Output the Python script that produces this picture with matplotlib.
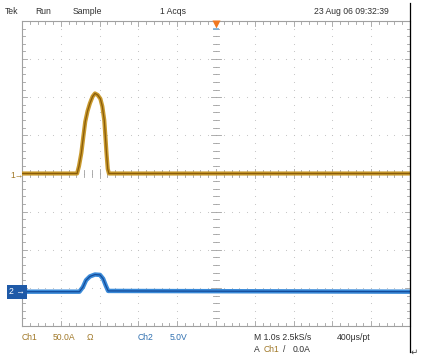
import numpy as np
import matplotlib.pyplot as plt

# scope settings
CH1_SCALE = 50.0    # A/div
CH2_SCALE = 5.0     # V/div
CH1_POS = 0.0       # div
CH2_POS = -3.1      # div

# Ch1 current (A) against time (s), trigger at t = 0
t1 = [-5.0, -3.58, -3.53, -3.47, -3.42, -3.37, -3.31, -3.25, -3.18, -3.12,
      -3.05, -2.98, -2.93, -2.88, -2.85, -2.82, -2.79, -2.76, 5.0]
i1 = [0, 0, 10, 27, 48, 68, 82, 92, 101, 105,
      103, 98, 88, 70, 48, 25, 6, 0, 0]

# Ch2 voltage (V)
t2 = [-5.0, -3.52, -3.43, -3.35, -3.25, -3.12, -2.99, -2.91, -2.84, -2.78, 5.0]
v2 = [0, 0, 0.6, 1.5, 2.0, 2.25, 2.2, 1.7, 0.8, 0.1, 0]

top_labels = ['Tek', 'Run', 'Sample', '1 Acqs', '23 Aug 06 09:32:39']
top_x = [5, 35, 73, 160, 314]

C1 = '#c99a2e'
C1_DARK = '#7a4c00'
C1_TEXT = '#a07828'
C2 = '#3a8ad8'
C2_DARK = '#0a3c8c'
C2_TEXT = '#3070b0'
GRID = '#a0a0a0'
FS = 6.2

plt.rcParams['font.family'] = ['Liberation Sans', 'DejaVu Sans']

W, H = 425, 360
fig = plt.figure(figsize=(W / 100, H / 100), dpi=100)
fig.patch.set_facecolor('white')
ax = fig.add_axes([22 / W, 1 - 326 / H, 388 / W, 305 / H])
ax.set_xlim(-5, 5)
ax.set_ylim(-4, 4)
ax.set_xticks([])
ax.set_yticks([])
for s in ax.spines.values():
    s.set_color(GRID)
    s.set_linewidth(0.8)

# dotted graticule
minor_x = np.arange(-5, 5.001, 0.2)
minor_y = np.arange(-4, 4.001, 0.2)
for gx in range(-4, 5):
    ax.scatter(np.full_like(minor_y, gx), minor_y, s=0.6, color='#c0c0c0', lw=0, zorder=1)
for gy in range(-3, 4):
    ax.scatter(minor_x, np.full_like(minor_x, gy), s=0.6, color='#c0c0c0', lw=0, zorder=1)

# ticks on the center cross and along the edges
tx, ty = 0.08, 0.08
for x in minor_x:
    k = 1.6 if abs(x - round(x)) < 1e-6 else 1.0
    ax.plot([x, x], [-ty * k, ty * k], color=GRID, lw=0.6, zorder=1)
    ax.plot([x, x], [4, 4 - ty * k], color=GRID, lw=0.6, zorder=1)
    ax.plot([x, x], [-4, -4 + ty * k], color=GRID, lw=0.6, zorder=1)
for y in minor_y:
    k = 1.6 if abs(y - round(y)) < 1e-6 else 1.0
    ax.plot([-tx * k, tx * k], [y, y], color=GRID, lw=0.6, zorder=1)
    ax.plot([-5, -5 + tx * k], [y, y], color=GRID, lw=0.6, zorder=1)
    ax.plot([5, 5 - tx * k], [y, y], color=GRID, lw=0.6, zorder=1)

# traces
y1 = CH1_POS + np.array(i1) / CH1_SCALE
y2 = CH2_POS + np.array(v2) / CH2_SCALE
ax.plot(t1, y1, color=C1, lw=3.0, solid_joinstyle='round', zorder=3)
ax.plot(t1, y1, color=C1_DARK, lw=0.9, alpha=0.8, zorder=4)
ax.plot(t2, y2, color=C2, lw=3.2, solid_joinstyle='round', zorder=3)
ax.plot(t2, y2, color=C2_DARK, lw=0.9, alpha=0.8, zorder=4)

# trigger marker
ax.plot([0], [3.93], marker='v', ms=6, color='#f07820', mec='none', clip_on=False, zorder=5)
ax.plot([0], [3.78], marker='_', ms=5, color='#7ab0d8', mew=1.2, clip_on=False, zorder=5)

# channel ground markers
fig.text(10 / W, 1 - 175 / H, '1\u2192', color=C1_TEXT, fontsize=FS, va='center', ha='left')
fig.text(9 / W, 1 - 292 / H, '2 \u2192', color='white', fontsize=FS, va='center', ha='left',
         bbox=dict(boxstyle='square,pad=0.25', fc='#1f5aa8', ec='none'))

# status lines
for lab, x in zip(top_labels, top_x):
    fig.text(x / W, 1 - 11 / H, lab, color='#303030', fontsize=FS, va='center', ha='left')

fig.text(22 / W, 1 - 338 / H, 'Ch1', color=C1_TEXT, fontsize=FS, va='center')
fig.text(53 / W, 1 - 338 / H, '50.0A', color=C1_TEXT, fontsize=FS, va='center')
fig.text(87 / W, 1 - 338 / H, '\u03a9', color=C1_TEXT, fontsize=FS, va='center')
fig.text(138 / W, 1 - 338 / H, 'Ch2', color=C2_TEXT, fontsize=FS, va='center')
fig.text(170 / W, 1 - 338 / H, '5.0V', color=C2_TEXT, fontsize=FS, va='center')
fig.text(254 / W, 1 - 338 / H, 'M 1.0s 2.5kS/s', color='#303030', fontsize=FS, va='center')
fig.text(337 / W, 1 - 338 / H, '400\u03bcs/pt', color='#303030', fontsize=FS, va='center')
fig.text(254 / W, 1 - 349 / H, 'A', color='#303030', fontsize=FS, va='center')
fig.text(264 / W, 1 - 349 / H, 'Ch1', color=C1_TEXT, fontsize=FS, va='center')
fig.text(283 / W, 1 - 349 / H, '/', color='#303030', fontsize=FS, va='center')
fig.text(293 / W, 1 - 349 / H, '0.0A', color='#303030', fontsize=FS, va='center')

# page border artefacts on the right
fig.add_artist(plt.Line2D([410 / W, 410 / W], [1 - 3 / H, 1 - 352 / H], color='black', lw=0.9))
fig.text(411 / W, 1 - 352 / H, '\u21b5', color='#404040', fontsize=FS, va='center')

fig.savefig('out.png', dpi=100)
